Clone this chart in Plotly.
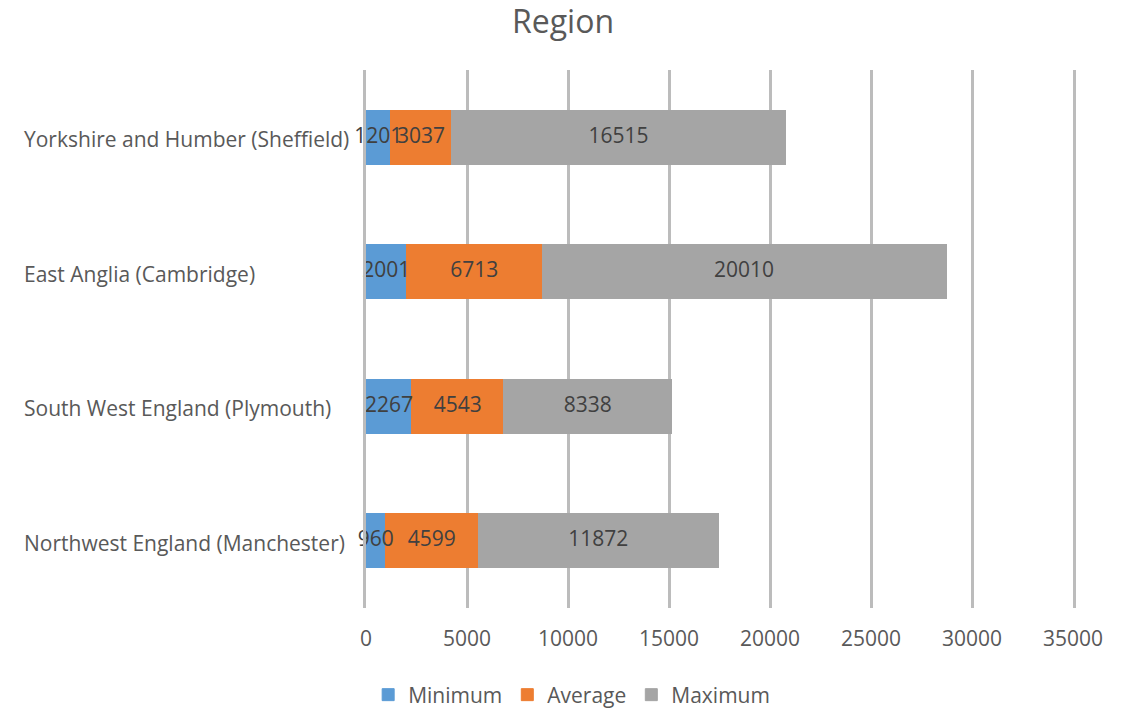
import plotly.graph_objects as go

# Regions listed bottom-to-top as they appear on the category axis
regions = [
    "Northwest England (Manchester)",
    "South West England (Plymouth)",
    "East Anglia (Cambridge)",
    "Yorkshire and Humber (Sheffield)",
]
minimum = [960, 2267, 2001, 1201]
average = [4599, 4543, 6713, 3037]
maximum = [11872, 8338, 20010, 16515]

x_ticks = [0, 5000, 10000, 15000, 20000, 25000, 30000, 35000]
x_tick_text = [str(v) for v in x_ticks]

FONT = "Open Sans"
TEXT_GREY = "#595959"
LABEL_GREY = "#404040"
GRID = "#bcbcbc"
FS = 21

W, H = 1132, 711
M_L, M_R, M_T, M_B = 366, 59, 70, 103
PLOT_W = W - M_L - M_R

series = [
    ("Minimum", minimum, "#5B9BD5"),
    ("Average", average, "#ED7D31"),
    ("Maximum", maximum, "#A5A5A5"),
]

fig = go.Figure()
starts = [0] * len(regions)
label_x, label_y, label_t = [], [], []
for name, vals, color in series:
    fig.add_trace(go.Bar(
        name=name,
        y=regions,
        x=vals,
        orientation="h",
        marker=dict(color=color, line=dict(color=color, width=1)),
        hoverinfo="x+name",
    ))
    # value labels sit at the middle of each stacked segment
    for i, v in enumerate(vals):
        label_x.append(starts[i] + v / 2)
        label_y.append(regions[i])
        label_t.append(str(v))
        starts[i] += v

# Value labels drawn above all bars so overflowing text stays visible
fig.add_trace(go.Scatter(
    x=label_x,
    y=label_y,
    text=label_t,
    mode="text",
    textposition="middle center",
    textfont=dict(family=FONT, size=FS, color=LABEL_GREY),
    showlegend=False,
    hoverinfo="skip",
    cliponaxis=False,
))

# Left-aligned category labels, starting 22 px from the page edge
cat_x = (22 - M_L) / PLOT_W
for r in regions:
    fig.add_annotation(
        x=cat_x, xref="paper",
        y=r, yref="y", yshift=-2,
        text=r, showarrow=False,
        xanchor="left", yanchor="middle",
        font=dict(family=FONT, size=FS, color=TEXT_GREY),
    )

fig.update_layout(
    barmode="stack",
    bargap=0.6,
    width=W,
    height=H,
    paper_bgcolor="white",
    plot_bgcolor="white",
    margin=dict(l=M_L, r=M_R, t=M_T, b=M_B),
    title=dict(
        text="Region",
        x=563 / W, xref="container", xanchor="center",
        y=1 - 22 / H, yref="container", yanchor="middle",
        font=dict(family=FONT, size=32, color=TEXT_GREY),
    ),
    xaxis=dict(
        range=[0, 35000],
        tickvals=x_ticks,
        ticktext=x_tick_text,
        showgrid=True,
        gridcolor=GRID,
        gridwidth=3,
        zeroline=False,
        showline=False,
        ticks="",
        ticklabelstandoff=16,
        tickfont=dict(family=FONT, size=FS, color=TEXT_GREY),
        fixedrange=True,
    ),
    yaxis=dict(
        categoryorder="array",
        categoryarray=regions,
        showticklabels=False,
        showgrid=False,
        zeroline=False,
        # vertical rules at 0 and 35000 (the range ends)
        showline=True,
        linecolor=GRID,
        linewidth=3,
        mirror=True,
        fixedrange=True,
    ),
    legend=dict(
        orientation="h",
        xref="container", x=0.505, xanchor="center",
        yref="container", y=1 - 695 / H, yanchor="middle",
        font=dict(family=FONT, size=FS, color=TEXT_GREY),
        itemwidth=30,
        traceorder="normal",
    ),
    showlegend=True,
)

fig.write_html("out.html")
